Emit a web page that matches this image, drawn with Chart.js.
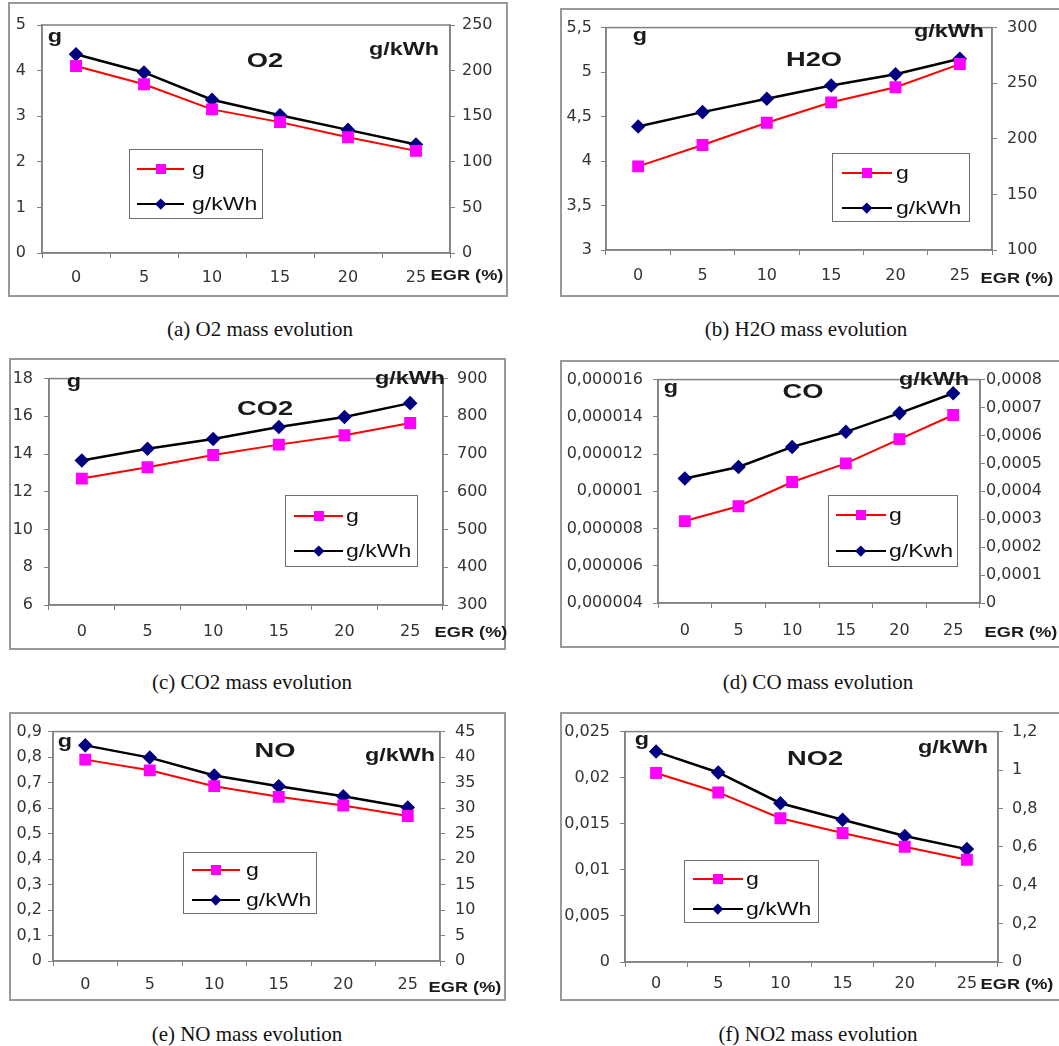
<!DOCTYPE html>
<html>
<head>
<meta charset="utf-8">
<script src="https://cdn.jsdelivr.net/npm/chart.js@4.4.0/dist/chart.umd.min.js"></script>
<style>
  body { margin: 0; width: 1059px; height: 1046px; background: #fff; overflow: hidden; position: relative; }
  canvas, .frame, .lbl, .legend, .caption { position: absolute; }
  .frame { box-sizing: border-box; border: 2px solid #999; pointer-events: none; }
  .lbl { font-family: "Liberation Sans", Arial, sans-serif; font-weight: bold; color: #1a1a1a; white-space: nowrap;
         transform: translate(-50%, -50%) scaleX(1.3); }
  .legend { box-sizing: border-box; border: 1.5px solid #707070; background: #fff; }
  .legend div, .legend span { position: absolute; }
  .legend span { font-family: "Liberation Sans", Arial, sans-serif; font-size: 18px; color: #111; white-space: nowrap;
                 transform-origin: left center; transform: translateY(-50%) scaleX(1.28); }
  .caption { font-family: "Liberation Serif", "Times New Roman", serif; font-size: 21px; color: #111; white-space: nowrap;
             transform: translate(-50%, -50%); }
</style>
</head>
<body>
<script>
const egr = ['0', '5', '10', '15', '20', '25'];

// g (left axis) and g/kWh (right axis)
const o2G = [4.10, 3.70, 3.15, 2.87, 2.54, 2.24];
const o2Kwh = [218, 198, 168, 151, 135, 119];
const h2oG = [3.94, 4.18, 4.43, 4.66, 4.83, 5.09];
const h2oKwh = [211, 224, 236, 248, 258, 272];
const co2G = [12.7, 13.3, 13.95, 14.5, 15.0, 15.65];
const co2Kwh = [683, 714, 740, 772, 798, 835];
const coG = [0.0000084, 0.0000092, 0.0000105, 0.0000115, 0.0000128, 0.0000141];
const coKwh = [0.000446, 0.000487, 0.000559, 0.000613, 0.00068, 0.000751];
const noG = [0.790, 0.748, 0.686, 0.644, 0.610, 0.569];
const noKwh = [42.3, 39.9, 36.4, 34.3, 32.3, 30.1];
const no2G = [0.0205, 0.0184, 0.0156, 0.0140, 0.0125, 0.0111];
const no2Kwh = [1.096, 0.987, 0.827, 0.741, 0.656, 0.588];

// axis ranges: [min, max, step]
const o2Left = [0, 5, 1], o2Right = [0, 250, 50];
const h2oLeft = [3, 5.5, 0.5], h2oRight = [100, 300, 50];
const co2Left = [6, 18, 2], co2Right = [300, 900, 100];
const coLeft = [0.000004, 0.000016, 0.000002], coRight = [0, 0.0008, 0.0001];
const noLeft = [0, 0.9, 0.1], noRight = [0, 45, 5];
const no2Left = [0, 0.025, 0.005], no2Right = [0, 1.2, 0.2];

const axisGrey = '#808080';
const tickFont = { family: 'DejaVu Sans', size: 16 };

// comma decimals like the original
function fmt(v) {
  return String(Number(Number(v).toPrecision(8))).replace('.', ',');
}

const plotFrame = {
  id: 'plotFrame',
  beforeDatasetsDraw(chart) {
    const a = chart.chartArea, ctx = chart.ctx;
    ctx.save();
    ctx.strokeStyle = axisGrey;
    ctx.lineWidth = 1.5;
    ctx.strokeRect(a.left, a.top, a.right - a.left, a.bottom - a.top);
    ctx.restore();
  }
};

function addText(cls, text, x, y, size) {
  const el = document.createElement('div');
  el.className = cls;
  el.textContent = text;
  el.style.left = x + 'px';
  el.style.top = y + 'px';
  if (size) el.style.fontSize = size + 'px';
  document.body.appendChild(el);
}

function yScale(range, pos, pad, width) {
  return {
    position: pos,
    min: range[0],
    max: range[1],
    ticks: { stepSize: range[2], callback: fmt, padding: pad, font: tickFont, color: '#333', autoSkip: false },
    grid: { drawOnChartArea: false, tickLength: 5, color: axisGrey },
    border: { color: axisGrey, width: 1.5 },
    afterFit: s => { s.width = width; }
  };
}

function panel(p) {
  const [bx, by, bw, bh] = p.box;
  const [pl, pt, pr, pb] = p.plot;
  const cv = document.createElement('canvas');
  cv.width = bw;
  cv.height = bh;
  cv.style.left = bx + 'px';
  cv.style.top = by + 'px';
  document.body.appendChild(cv);

  const chart = new Chart(cv, {
    type: 'line',
    data: {
      labels: egr,
      datasets: [{
        label: 'g',
        data: p.g,
        yAxisID: 'y',
        borderColor: '#ff0000',
        backgroundColor: '#ff00ff',
        pointBorderColor: '#ff00ff',
        pointBackgroundColor: '#ff00ff',
        pointStyle: 'rect',
        pointRadius: 7,
        borderWidth: 2,
        fill: false
      }, {
        label: p.unit,
        data: p.kwh,
        yAxisID: 'y1',
        borderColor: '#000000',
        backgroundColor: '#000080',
        pointBorderColor: '#000080',
        pointBackgroundColor: '#000080',
        pointStyle: 'rectRot',
        pointRadius: 5.5,
        borderWidth: 2.5,
        fill: false
      }]
    },
    options: {
      responsive: false,
      animation: false,
      events: [],
      layout: { padding: { top: pt - by } },
      plugins: { legend: { display: false }, tooltip: { enabled: false } },
      scales: {
        x: {
          offset: true,
          grid: { offset: true, drawOnChartArea: false, tickLength: 5, color: axisGrey },
          border: { color: axisGrey, width: 1.5 },
          ticks: { padding: p.xPad, font: tickFont, color: '#333', maxRotation: 0, autoSkip: false },
          afterFit: s => { s.height = by + bh - pb; }
        },
        y: yScale(p.left, 'left', p.pads[0], pl - bx),
        y1: yScale(p.right, 'right', p.pads[1], bx + bw - pr)
      }
    },
    plugins: [plotFrame]
  });

  const fr = document.createElement('div');
  fr.className = 'frame';
  Object.assign(fr.style, { left: bx + 'px', top: by + 'px', width: bw + 'px', height: bh + 'px' });
  document.body.appendChild(fr);

  // labels inside the plot
  addText('lbl', 'g', p.gLbl[0], p.gLbl[1], 18);
  addText('lbl', p.title, p.titleLbl[0], p.titleLbl[1], 21);
  addText('lbl', 'g/kWh', p.unitLbl[0], p.unitLbl[1], 18);
  addText('lbl', 'EGR (%)', p.egrLbl[0], p.egrLbl[1], 14);
  addText('caption', p.caption, p.capLbl[0], p.capLbl[1]);

  // html legend from the chart's datasets
  const L = p.legend;
  const lg = document.createElement('div');
  lg.className = 'legend';
  Object.assign(lg.style, { left: L.box[0] + 'px', top: L.box[1] + 'px', width: L.box[2] + 'px', height: L.box[3] + 'px' });
  chart.data.datasets.forEach((ds, i) => {
    const ry = L.rows[i] - L.box[1];
    const lx = L.line[0] - L.box[0];
    const line = document.createElement('div');
    Object.assign(line.style, { left: lx + 'px', top: (ry - 1.25) + 'px', width: L.line[1] + 'px', height: '2.5px', background: ds.borderColor });
    lg.appendChild(line);
    const mk = document.createElement('div');
    const sz = ds.pointStyle === 'rect' ? 10 : 7.5;
    Object.assign(mk.style, {
      left: (lx + L.line[1] / 2 - sz / 2) + 'px', top: (ry - sz / 2) + 'px',
      width: sz + 'px', height: sz + 'px', background: ds.pointBackgroundColor,
      transform: ds.pointStyle === 'rect' ? 'none' : 'rotate(45deg)'
    });
    lg.appendChild(mk);
    const tx = document.createElement('span');
    tx.textContent = ds.label;
    Object.assign(tx.style, { left: (L.text - L.box[0]) + 'px', top: ry + 'px' });
    lg.appendChild(tx);
  });
  document.body.appendChild(lg);
}

panel({
  title: 'O2', unit: 'g/kWh', caption: '(a) O2 mass evolution', g: o2G, kwh: o2Kwh, left: o2Left, right: o2Right,
  box: [8, 2, 500, 295], plot: [42, 25, 450, 253], pads: [11, 7], xPad: 10,
  gLbl: [55, 36], titleLbl: [265, 60], unitLbl: [404, 49], egrLbl: [467, 275], capLbl: [260, 329],
  legend: { box: [129, 149, 134, 70], rows: [168, 203], line: [136, 47], text: 191 }
});
panel({
  title: 'H2O', unit: 'g/kWh', caption: '(b) H2O mass evolution', g: h2oG, kwh: h2oKwh, left: h2oLeft, right: h2oRight,
  box: [560, 8, 512, 289], plot: [606, 25, 992, 250], pads: [9, 10], xPad: 11,
  gLbl: [640, 35], titleLbl: [814, 59], unitLbl: [949, 31], egrLbl: [1017, 278], capLbl: [806, 329],
  legend: { box: [832, 153, 138, 69], rows: [172, 207], line: [841, 50], text: 895 }
});
panel({
  title: 'CO2', unit: 'g/kWh', caption: '(c) CO2 mass evolution', g: co2G, kwh: co2Kwh, left: co2Left, right: co2Right,
  box: [9, 358, 497, 292], plot: [49, 377, 443, 605], pads: [11, 9], xPad: 12,
  gLbl: [74, 381], titleLbl: [265, 408], unitLbl: [410, 378], egrLbl: [471, 632], capLbl: [252, 682],
  legend: { box: [285, 495, 133, 72], rows: [515, 550], line: [293, 49], text: 345 }
});
panel({
  title: 'CO', unit: 'g/Kwh', caption: '(d) CO mass evolution', g: coG, kwh: coKwh, left: coLeft, right: coRight,
  box: [560, 360, 512, 288], plot: [658, 378, 980, 603], pads: [10, 1], xPad: 13,
  gLbl: [671, 387], titleLbl: [803, 391], unitLbl: [934, 379], egrLbl: [1021, 632], capLbl: [818, 682],
  legend: { box: [828, 495, 130, 72], rows: [514, 550], line: [835, 50], text: 888 }
});
panel({
  title: 'NO', unit: 'g/kWh', caption: '(e) NO mass evolution', g: noG, kwh: noKwh, left: noLeft, right: noRight,
  box: [9, 712, 497, 289], plot: [53, 730, 440, 961], pads: [6, 10], xPad: 9,
  gLbl: [65, 741], titleLbl: [275, 750], unitLbl: [400, 755], egrLbl: [465, 987], capLbl: [247, 1034],
  legend: { box: [183, 852, 134, 62], rows: [869, 899], line: [191, 48], text: 245 }
});
panel({
  title: 'NO2', unit: 'g/kWh', caption: '(f) NO2 mass evolution', g: no2G, kwh: no2Kwh, left: no2Left, right: no2Right,
  box: [560, 712, 512, 289], plot: [625, 727, 998, 962], pads: [10, 9], xPad: 7,
  gLbl: [642, 739], titleLbl: [815, 758], unitLbl: [953, 747], egrLbl: [1017, 984], capLbl: [818, 1034],
  legend: { box: [684, 860, 135, 63], rows: [878, 908], line: [692, 50], text: 745 }
});
</script>
</body>
</html>
